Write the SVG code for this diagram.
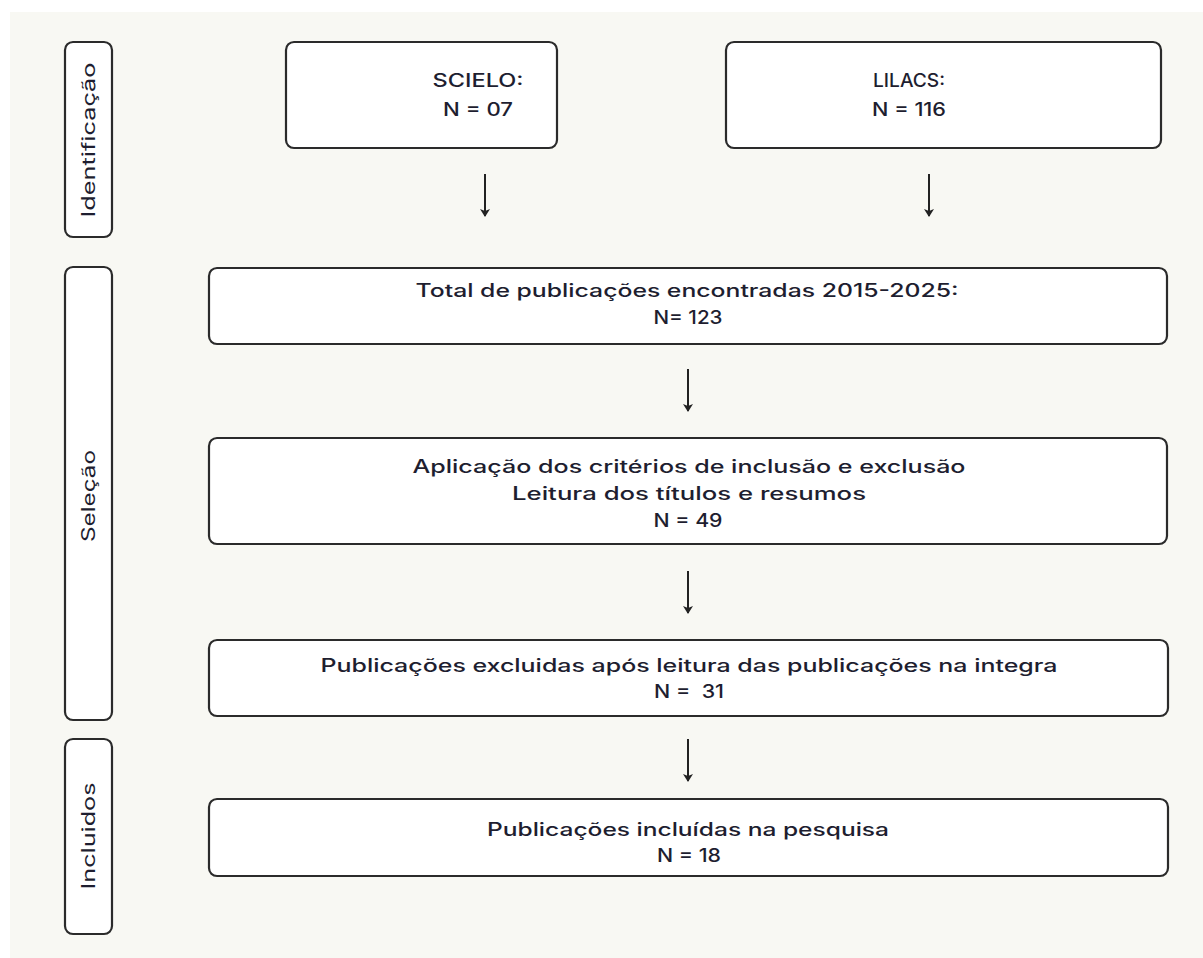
<svg xmlns="http://www.w3.org/2000/svg" width="1203" height="958" viewBox="0 0 1203 958">
<style>
.box{fill:#ffffff;stroke:#2b2b2b;stroke-width:2.2}
.t{font-family:Inter,"Liberation Sans",sans-serif;font-size:18px;font-weight:500;fill:#1e1e30;text-anchor:middle}
.s{font-weight:400}
.c{stroke:#222;stroke-width:2;fill:none}
</style>
<defs>
<marker id="ah" viewBox="0 0 8 10" refX="7" refY="5" markerWidth="8" markerHeight="10" markerUnits="userSpaceOnUse" orient="auto">
<path d="M0,0 L8,5 L0,10 L2,5 Z" fill="#222"/>
</marker>
</defs>
<rect x="0" y="0" width="1203" height="958" fill="#ffffff"/>
<rect x="10" y="12" width="1193" height="946" fill="#f8f8f3"/>

<g id="lane-identificacao">
<rect class="box" x="65" y="42" width="47" height="195" rx="8"/>
<text class="t s" transform="translate(95,140) rotate(-90)" textLength="155" lengthAdjust="spacingAndGlyphs">Identificação</text>
</g>
<g id="lane-selecao">
<rect class="box" x="65" y="267" width="47" height="453" rx="8"/>
<text class="t s" transform="translate(95,496) rotate(-90)" textLength="92" lengthAdjust="spacingAndGlyphs">Seleção</text>
</g>
<g id="lane-incluidos">
<rect class="box" x="65" y="739" width="47" height="195" rx="8"/>
<text class="t s" transform="translate(95,836) rotate(-90)" textLength="107" lengthAdjust="spacingAndGlyphs">Incluidos</text>
</g>

<g id="scielo">
<rect class="box" x="286" y="42" width="271" height="106" rx="8"/>
<text class="t" x="478" y="87" textLength="91" lengthAdjust="spacingAndGlyphs">SCIELO:</text>
<text class="t" x="478" y="116" textLength="70" lengthAdjust="spacingAndGlyphs">N = 07</text>
</g>
<g id="lilacs">
<rect class="box" x="726" y="42" width="435" height="106" rx="8"/>
<text class="t" x="909" y="87" textLength="72" lengthAdjust="spacingAndGlyphs">LILACS:</text>
<text class="t" x="909" y="116" textLength="74" lengthAdjust="spacingAndGlyphs">N = 116</text>
</g>
<g id="total">
<rect class="box" x="209" y="268" width="958" height="76" rx="8"/>
<text class="t" x="687" y="297" textLength="543" lengthAdjust="spacingAndGlyphs">Total de publicações encontradas 2015-2025:</text>
<text class="t" x="688" y="324" textLength="69" lengthAdjust="spacingAndGlyphs">N= 123</text>
</g>
<g id="aplicacao">
<rect class="box" x="209" y="438" width="958" height="106" rx="8"/>
<text class="t" x="689" y="473" textLength="553" lengthAdjust="spacingAndGlyphs">Aplicação dos critérios de inclusão e exclusão</text>
<text class="t" x="689" y="500" textLength="354" lengthAdjust="spacingAndGlyphs">Leitura dos títulos e resumos</text>
<text class="t" x="688" y="527" textLength="69" lengthAdjust="spacingAndGlyphs">N = 49</text>
</g>
<g id="excluidas">
<rect class="box" x="209" y="640" width="959" height="76" rx="8"/>
<text class="t" x="689" y="672" textLength="737" lengthAdjust="spacingAndGlyphs">Publicações excluidas após leitura das publicações na integra</text>
<text class="t" x="689" y="698" textLength="70" lengthAdjust="spacingAndGlyphs" xml:space="preserve">N =  31</text>
</g>
<g id="incluidas">
<rect class="box" x="209" y="799" width="959" height="77" rx="8"/>
<text class="t" x="688" y="836" textLength="402" lengthAdjust="spacingAndGlyphs">Publicações incluídas na pesquisa</text>
<text class="t" x="689" y="862" textLength="64" lengthAdjust="spacingAndGlyphs">N = 18</text>
</g>

<g id="connectors">
<line class="c" x1="485" y1="174" x2="485" y2="216" marker-end="url(#ah)"/>
<line class="c" x1="929" y1="174" x2="929" y2="216" marker-end="url(#ah)"/>
<line class="c" x1="688" y1="369" x2="688" y2="411" marker-end="url(#ah)"/>
<line class="c" x1="688" y1="571" x2="688" y2="613" marker-end="url(#ah)"/>
<line class="c" x1="688" y1="739" x2="688" y2="781" marker-end="url(#ah)"/>
</g>
</svg>
